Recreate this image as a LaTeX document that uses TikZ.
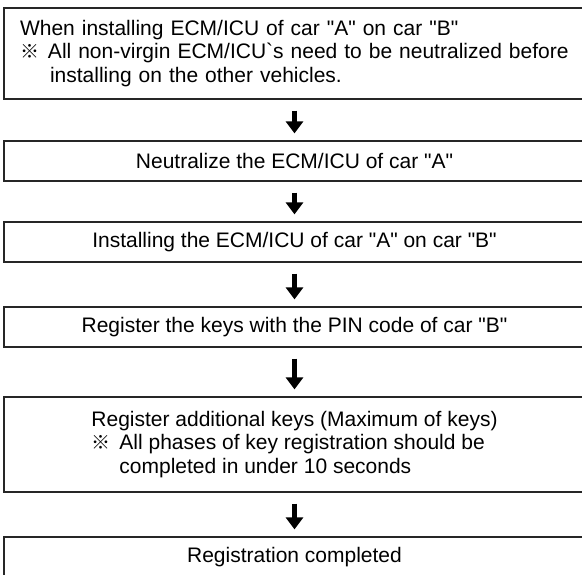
\documentclass[tikz,border=0pt]{standalone}
\usepackage{fontspec}
\setmainfont{Liberation Sans}[Ligatures=TeXOff]
\newfontfamily\cjk{Noto Sans CJK JP}
\usetikzlibrary{arrows.meta}
\tikzset{
  stepbox/.style={draw=black!85,line width=1.2pt,minimum width=581pt,
    inner sep=0pt,font=\fontsize{21}{23.5}\selectfont},
  flowarrow/.style={-{Triangle[width=17pt,length=12pt]},line width=4.5pt,
    shorten <=11pt,shorten >=7pt}
}
\newcommand{\refmark}{\makebox[28pt][l]{\cjk\fontsize{19}{19}\selectfont ※}}

\begin{document}
\begin{tikzpicture}[x=1pt,y=-1pt]
  \useasboundingbox (0,0) rectangle (582,575);
  \node[stepbox,minimum height=91pt,text width=549pt,align=left] (b1) at (294.5,53.5)
    {When installing ECM/ICU of car "A" on car "B"\\
     \refmark All non-virgin ECM/ICU`s need to be neutralized before\\
     \hspace*{30pt}installing on the other vehicles.};
  \node[stepbox,minimum height=40pt] (b2) at (294.5,161) {Neutralize the ECM/ICU of car "A"};
  \node[stepbox,minimum height=40pt] (b3) at (294.5,242) {Installing the ECM/ICU of car "A" on car "B"};
  \node[stepbox,minimum height=40pt] (b4) at (294.5,327) {Register the keys with the PIN code of car "B"};
  \node[stepbox,minimum height=95pt,align=left] (b5) at (294.5,444.5)
    {Register additional keys (Maximum of keys)\\
     \rlap{\refmark All phases of key registration should be}\\
     \hspace*{28pt}completed in under 10 seconds};
  \node[stepbox,minimum height=40pt] (b6) at (294.5,557) {Registration completed};
  \draw[flowarrow] (b1) -- (b2);
  \draw[flowarrow] (b2) -- (b3);
  \draw[flowarrow] (b3) -- (b4);
  \draw[flowarrow] (b4) -- (b5);
  \draw[flowarrow] (b5) -- (b6);
\end{tikzpicture}
\end{document}
